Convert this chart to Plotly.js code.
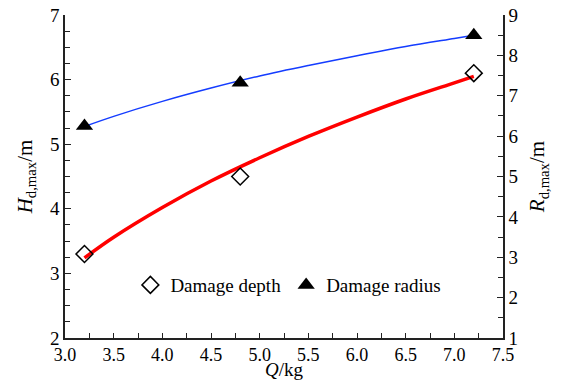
<!DOCTYPE html>
<html>
<head>
<meta charset="utf-8">
<script src="https://cdn.plot.ly/plotly-3.0.1.min.js"></script>
<style>html,body{margin:0;padding:0;background:#fff;}#chart{width:562px;height:380px;}</style>
</head>
<body>
<div id="chart"></div>
<script>
// Measured points
var chargeQ = [3.2, 4.8, 7.2];
var damageDepth = [3.3, 4.5, 6.1];
var damageRadius = [6.25, 7.32, 8.5];
// Fitted trend curves
var fitQ = [3.2, 3.5, 4.0, 4.5, 5.0, 5.5, 6.0, 6.5, 7.0, 7.2];
var depthFit = [3.24, 3.56, 4.02, 4.43, 4.79, 5.12, 5.42, 5.70, 5.95, 6.05];
var radiusFit = [6.24, 6.49, 6.86, 7.19, 7.49, 7.75, 7.99, 8.22, 8.42, 8.5];

var serif = "Liberation Serif";

var traces = [
  {x: fitQ, y: depthFit, mode: "lines", line: {color: "#ff0000", width: 3.5, shape: "spline"}, showlegend: false, hoverinfo: "skip"},
  {x: fitQ, y: radiusFit, yaxis: "y2", mode: "lines", line: {color: "rgb(20,60,255)", width: 1.5, shape: "spline"}, showlegend: false, hoverinfo: "skip"},
  {x: chargeQ, y: damageDepth, mode: "markers", name: "Damage depth",
   marker: {symbol: "diamond-open", size: 13, color: "#000", line: {width: 1.5, color: "#000"}}},
  {x: chargeQ, y: damageRadius, yaxis: "y2", mode: "markers", name: "Damage radius",
   marker: {symbol: "triangle-up", size: 15, color: "#000"}}
];

var layout = {
  width: 562, height: 380,
  margin: {l: 65, r: 59, t: 15, b: 42},
  paper_bgcolor: "#fff", plot_bgcolor: "#fff",
  font: {family: serif, size: 18, color: "#000"},
  showlegend: true,
  legend: {orientation: "h", x: 0.51, xanchor: "center", y: 0.164, yanchor: "middle",
           font: {size: 19}, bgcolor: "rgba(0,0,0,0)"},
  xaxis: {
    range: [3.0, 7.5], dtick: 0.5, tick0: 3.0, tickformat: ".1f",
    showgrid: false, zeroline: false, showline: true, linecolor: "#222", linewidth: 1.5,
    ticks: "inside", ticklen: 5, tickcolor: "#222", tickwidth: 1,
    minor: {dtick: 0.25, ticks: "inside", ticklen: 5, tickcolor: "#222", showgrid: false},
    title: {text: "<i>Q</i>/kg", font: {size: 19}, standoff: 4}
  },
  yaxis: {
    range: [2, 7], dtick: 1, showgrid: false, zeroline: false,
    showline: true, linecolor: "#222", linewidth: 1.5,
    ticks: "inside", ticklen: 6, tickcolor: "#222", tickwidth: 1,
    minor: {dtick: 0.25, ticks: "inside", ticklen: 5, tickcolor: "#222", showgrid: false},
    tickfont: {size: 19},
    title: {text: "<i>H</i><sub>d,max</sub>/m", font: {size: 21}, standoff: 12}
  },
  yaxis2: {
    range: [1, 9], dtick: 1, overlaying: "y", side: "right",
    showgrid: false, zeroline: false, showline: true, linecolor: "#222", linewidth: 1.5,
    ticks: "inside", ticklen: 6, tickcolor: "#222", tickwidth: 1,
    minor: {dtick: 0.5, ticks: "inside", ticklen: 5, tickcolor: "#222", showgrid: false},
    tickfont: {size: 19},
    title: {text: "<i>R</i><sub>d,max</sub>/m", font: {size: 21}, standoff: 12}
  }
};

Plotly.newPlot("chart", traces, layout, {displayModeBar: false});
</script>
</body>
</html>
